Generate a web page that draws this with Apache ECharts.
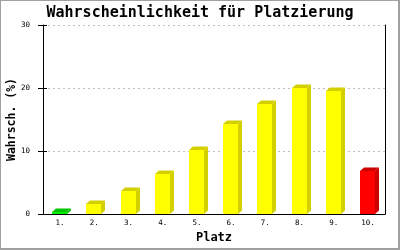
<!DOCTYPE html>
<html>
<head>
<meta charset="utf-8">
<script src="https://cdn.jsdelivr.net/npm/echarts@6/dist/echarts.min.js"></script>
<style>
html,body{margin:0;padding:0;background:#fff;}
#wrap{position:relative;width:400px;height:250px;}
#chart{position:absolute;left:0;top:0;width:400px;height:250px;}
#frame{position:absolute;left:0;top:0;width:400px;height:250px;box-sizing:border-box;
  border-style:solid;border-color:#a0a0a0;border-width:1px 2px 2px 1px;pointer-events:none;}
</style>
</head>
<body>
<div id="wrap"><div id="chart"></div><div id="frame"></div></div>
<script>
const categories = ['1.', '2.', '3.', '4.', '5.', '6.', '7.', '8.', '9.', '10.'];
const probabilities = [0.3, 1.6, 3.7, 6.4, 10.1, 14.3, 17.5, 20.0, 19.6, 6.8];
const yTicks = [0, 10, 20, 30];
const titleText = 'Wahrscheinlichkeit für Platzierung';
const xName = 'Platz';
const yName = 'Wahrsch. (%)';

const FONT = '"DejaVu Sans Mono", "Liberation Mono", monospace';
function barColors(i, n) {
  if (i === 0) return { front: '#00ee00', dark: '#00c400' };
  if (i === n - 1) return { front: '#ff0000', dark: '#cc0000' };
  return { front: '#ffff00', dark: '#d4d000' };
}

const chart = echarts.init(document.getElementById('chart'), null, { renderer: 'canvas' });
const option = {
  animation: false,
  backgroundColor: '#fff',
  title: {
    text: titleText, left: 'center', top: 1,
    textStyle: { fontFamily: FONT, fontSize: 15, fontWeight: 'bold', color: '#000' }
  },
  grid: { left: 43, right: 15, top: 25, bottom: 36, containLabel: false, outerBoundsMode: 'none' },
  xAxis: {
    type: 'category', data: categories,
    name: xName, nameLocation: 'middle', nameGap: 18, nameMoveOverlap: false,
    nameTextStyle: { fontFamily: FONT, fontSize: 12, fontWeight: 'bold', color: '#000' },
    axisLine: { lineStyle: { color: '#000', width: 1 } },
    axisTick: { show: false },
    axisLabel: { fontFamily: FONT, fontSize: 7.5, color: '#000', margin: 5 },
    splitLine: { show: false }
  },
  yAxis: [{
    type: 'value', min: yTicks[0], max: yTicks[yTicks.length - 1], interval: 10,
    name: yName, nameLocation: 'middle', nameGap: 25, nameRotate: 90, nameMoveOverlap: false,
    nameTextStyle: { fontFamily: FONT, fontSize: 11.5, fontWeight: 'bold', color: '#000' },
    axisLine: { show: true, lineStyle: { color: '#000', width: 1 } },
    axisTick: { show: true, length: 5, lineStyle: { color: '#000' } },
    axisLabel: { fontFamily: FONT, fontSize: 7.5, color: '#000', margin: 13 },
    splitLine: { show: true, lineStyle: { color: '#c0c0c0', type: [2, 3], width: 1 } }
  }, {
    type: 'value', min: yTicks[0], max: yTicks[yTicks.length - 1], interval: 10,
    position: 'left', offset: 0,
    axisLine: { show: false },
    axisTick: { show: true, inside: true, length: 4, lineStyle: { color: '#000' } },
    axisLabel: { show: false },
    splitLine: { show: false }
  }, {
    type: 'value', min: yTicks[0], max: yTicks[yTicks.length - 1], interval: 10,
    position: 'right', offset: 0,
    axisLine: { show: true, lineStyle: { color: '#000', width: 1 } },
    axisTick: { show: false },
    axisLabel: { show: false },
    splitLine: { show: false }
  }],
  series: [{
    type: 'custom',
    data: probabilities.map((v, i) => [i, v]),
    encode: { x: 0, y: 1 },
    renderItem: function (params, api) {
      const idx = api.value(0), val = api.value(1);
      const top = api.coord([idx, val]);
      const base = api.coord([idx, 0]);
      const bw = 15, dx = 4, dy = 3.5;
      const x0 = Math.round(top[0] - 8);
      const x1 = x0 + bw;
      const yt = Math.round(top[1]);
      const yb = base[1];
      const c = barColors(params.dataIndex, probabilities.length);
      return {
        type: 'group',
        children: [
          { type: 'polygon', shape: { points: [[x1, yt], [x1 + dx, yt - dy], [x1 + dx, yb - dy], [x1, yb]] },
            style: { fill: c.dark } },
          { type: 'polygon', shape: { points: [[x0, yt], [x0 + dx, yt - dy], [x1 + dx, yt - dy], [x1, yt]] },
            style: { fill: c.dark } },
          { type: 'rect', shape: { x: x0, y: yt, width: bw, height: yb - yt },
            style: { fill: c.front } }
        ]
      };
    },
    z: 3
  }]
};
chart.setOption(option);
</script>
</body>
</html>
